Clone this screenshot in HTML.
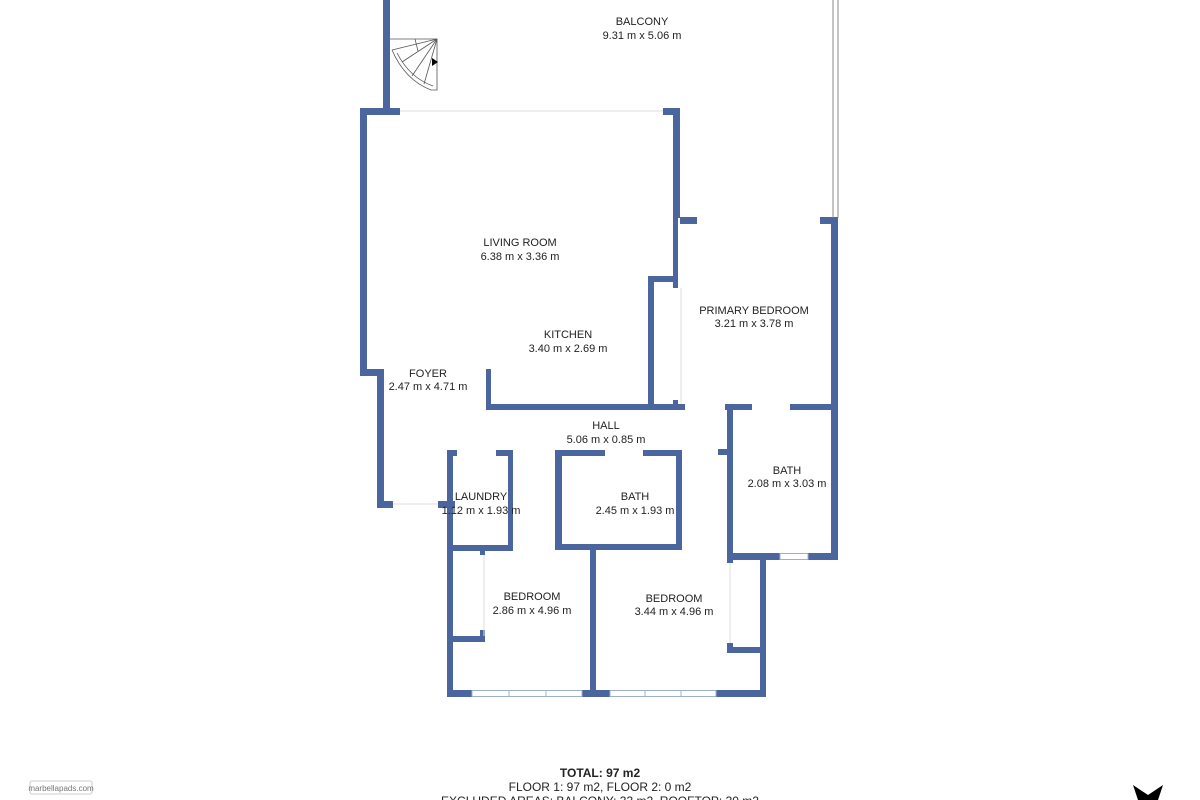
<!DOCTYPE html>
<html><head><meta charset="utf-8"><style>
html,body{margin:0;padding:0;background:#fff;}
body{width:1200px;height:800px;overflow:hidden;position:relative;}
svg{position:absolute;left:0;top:0;}
text{font-family:"Liberation Sans",sans-serif;font-size:11px;fill:#222;text-anchor:middle;}
</style></head><body>
<svg width="1200" height="800" viewBox="0 0 1200 800">
<g fill="#4b669f">
<!-- balcony left -->
<rect x="383" y="0" width="7" height="110"/>
<!-- living top -->
<rect x="360" y="108" width="40" height="7"/>
<rect x="663" y="108" width="17" height="7"/>
<rect x="360" y="108" width="7" height="268"/>
<rect x="673" y="108" width="7" height="110"/>
<rect x="673" y="218" width="5" height="70"/>
<rect x="680" y="217" width="17" height="7"/>
<!-- foyer -->
<rect x="360" y="369" width="24" height="7"/>
<rect x="377" y="369" width="7" height="139"/>
<rect x="377" y="501" width="16" height="7"/>
<rect x="438" y="501" width="17" height="7"/>
<!-- kitchen -->
<rect x="486" y="369" width="5" height="41"/>
<rect x="648" y="276" width="27" height="6"/>
<rect x="648" y="276" width="6" height="134"/>
<rect x="486" y="404" width="199" height="6"/>
<rect x="673" y="400" width="5" height="10"/>
<!-- right side -->
<rect x="820" y="217" width="18" height="7"/>
<rect x="831" y="217" width="7" height="343"/>
<rect x="725" y="404" width="27" height="6"/>
<rect x="790" y="404" width="48" height="6"/>
<rect x="727" y="404" width="6" height="156"/>
<rect x="727" y="553" width="53" height="7"/>
<rect x="808" y="553" width="30" height="7"/>
<rect x="718" y="449" width="15" height="6"/>
<!-- laundry -->
<rect x="447" y="450" width="10" height="6"/>
<rect x="496" y="450" width="17" height="6"/>
<rect x="447" y="450" width="6" height="247"/>
<rect x="508" y="450" width="5" height="101"/>
<rect x="447" y="545" width="66" height="6"/>
<rect x="480" y="545" width="5" height="10"/>
<rect x="447" y="636" width="38" height="6"/>
<rect x="480" y="630" width="5" height="12"/>
<!-- middle bath -->
<rect x="555" y="450" width="50" height="6"/>
<rect x="643" y="450" width="39" height="6"/>
<rect x="555" y="450" width="7" height="100"/>
<rect x="676" y="450" width="6" height="100"/>
<rect x="555" y="544" width="127" height="6"/>
<rect x="590" y="544" width="6" height="153"/>
<!-- right bedroom -->
<rect x="760" y="557" width="6" height="140"/>
<rect x="727" y="557" width="6" height="6"/>
<rect x="727" y="647" width="39" height="6"/>
<rect x="727" y="643" width="6" height="10"/>
<!-- bottom -->
<rect x="447" y="690" width="25" height="7"/>
<rect x="582" y="690" width="28" height="7"/>
<rect x="716" y="690" width="50" height="7"/>
</g>
<!-- windows -->
<g fill="#fff" stroke="#9fb0cc" stroke-width="1">
<rect x="472" y="690.5" width="110" height="6"/>
<rect x="610" y="690.5" width="106" height="6"/>
<rect x="780" y="553.5" width="28" height="6"/>
</g>
<g stroke="#9fb0cc" stroke-width="1">
<line x1="509" y1="690" x2="509" y2="697"/><line x1="546" y1="690" x2="546" y2="697"/>
<line x1="645" y1="690" x2="645" y2="697"/><line x1="681" y1="690" x2="681" y2="697"/>
</g>
<g stroke="#ddd" stroke-width="1" fill="none">
<line x1="400" y1="111" x2="663" y2="111"/>
<line x1="393" y1="504" x2="438" y2="504"/>
<line x1="681" y1="288" x2="681" y2="404"/>
<line x1="484" y1="555" x2="484" y2="636"/>
<line x1="730" y1="563" x2="730" y2="643"/>
</g>
<!-- balcony right rails -->
<g stroke="#888" stroke-width="1">
<line x1="833" y1="0" x2="833" y2="218"/><line x1="838" y1="0" x2="838" y2="218"/>
</g>
<!-- stairs -->
<g stroke="#555" stroke-width="0.8" fill="none">
<path d="M390 39 L437 39 L437 90 L431 90 Q405 80 392 50"/>
<path d="M397 53 Q410 78 433 86"/>
<line x1="437" y1="39" x2="392" y2="50"/><line x1="437" y1="39" x2="402" y2="62"/>
<line x1="437" y1="39" x2="412" y2="76"/><line x1="437" y1="39" x2="424" y2="84"/>
<line x1="415" y1="39" x2="418" y2="51"/>
</g>
<path d="M432 58 L438 62 L432 66 Z" fill="#000"/>
<!-- labels -->
<text x="642" y="25">BALCONY</text><text x="642" y="39">9.31 m x 5.06 m</text>
<text x="520" y="246">LIVING ROOM</text><text x="520" y="260">6.38 m x 3.36 m</text>
<text x="568" y="338">KITCHEN</text><text x="568" y="352">3.40 m x 2.69 m</text>
<text x="428" y="377">FOYER</text><text x="428" y="390">2.47 m x 4.71 m</text>
<text x="754" y="314">PRIMARY BEDROOM</text><text x="754" y="327">3.21 m x 3.78 m</text>
<text x="606" y="429">HALL</text><text x="606" y="443">5.06 m x 0.85 m</text>
<text x="787" y="474">BATH</text><text x="787" y="487">2.08 m x 3.03 m</text>
<text x="481" y="500">LAUNDRY</text><text x="481" y="514">1.12 m x 1.93 m</text>
<text x="635" y="500">BATH</text><text x="635" y="514">2.45 m x 1.93 m</text>
<text x="532" y="600">BEDROOM</text><text x="532" y="614">2.86 m x 4.96 m</text>
<text x="674" y="602">BEDROOM</text><text x="674" y="615">3.44 m x 4.96 m</text>
<text x="600" y="777" style="font-weight:bold;font-size:12px">TOTAL: 97 m2</text>
<text x="600" y="791" style="font-size:12px">FLOOR 1: 97 m2, FLOOR 2: 0 m2</text>
<text x="600" y="805" style="font-size:12px">EXCLUDED AREAS: BALCONY: 33 m2, ROOFTOP: 30 m2</text>
<rect x="30" y="781" width="62" height="13" fill="#fff" stroke="#ccc" rx="2"/>
<text x="61" y="791" style="font-size:8px;fill:#777">marbellapads.com</text>
<path d="M1133 785 L1148 795 L1163 785 L1158 800 L1138 800 Z" fill="#000"/>
</svg>
</body></html>
